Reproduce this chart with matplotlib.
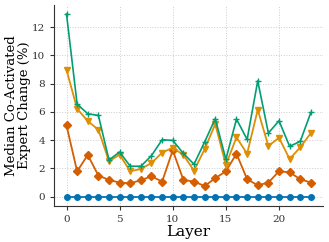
import matplotlib
matplotlib.use("Agg")
import matplotlib.pyplot as plt

layers = list(range(24))
blue_vals = [0.0] * 24
red_vals = [5.04, 1.79, 2.95, 1.49, 1.18, 0.99, 0.94, 1.16, 1.44, 1.06, 3.28, 1.18,
            1.06, 0.75, 1.30, 1.79, 3.04, 1.23, 0.80, 0.99, 1.79, 1.72, 1.23, 0.99]
orange_vals = [8.98, 6.22, 5.35, 4.74, 2.50, 2.97, 1.79, 1.96, 2.38, 3.11, 3.47, 2.95,
               1.84, 3.35, 5.14, 2.24, 4.20, 3.04, 6.15, 3.58, 4.17, 2.66, 3.49, 4.50]
green_vals = [12.94, 6.55, 5.87, 5.75, 2.59, 3.16, 2.15, 2.15, 2.90, 4.03, 3.98, 3.06,
              2.29, 3.87, 5.52, 2.64, 5.49, 4.05, 8.20, 4.50, 5.37, 3.56, 3.91, 5.96]

plt.rcParams['font.family'] = ['DejaVu Serif']

fig, ax = plt.subplots(figsize=(3.29, 2.42), dpi=100)
ax.plot(layers, blue_vals, color="#0173B2", marker="o", markersize=4, linewidth=1.3)
ax.plot(layers, red_vals, color="#D55E00", marker="D", markersize=4, linewidth=1.3)
ax.plot(layers, orange_vals, color="#DE8F05", marker="v", markersize=4.5, linewidth=1.3)
ax.plot(layers, green_vals, color="#029E73", marker="+", markersize=5, linewidth=1.2)

ax.grid(True, linestyle=":", color="#cccccc", linewidth=0.7)
ax.set_axisbelow(True)
for s in ["top", "right"]:
    ax.spines[s].set_visible(False)
ax.spines["left"].set_color("#333333")
ax.spines["bottom"].set_color("#333333")
ax.tick_params(labelsize=7.5, length=3, colors="#333333")
ax.set_xticks([0, 5, 10, 15, 20])
ax.set_yticks([0, 2, 4, 6, 8, 10, 12])
ax.set_xlabel("Layer", fontsize=11, labelpad=1)
ax.set_ylabel("Median Co-Activated\nExpert Change (%)", fontsize=9.5, labelpad=1,
              linespacing=1.0)

fig.subplots_adjust(left=0.165, right=0.982, top=0.98, bottom=0.15)
fig.savefig("out.png", dpi=100)
